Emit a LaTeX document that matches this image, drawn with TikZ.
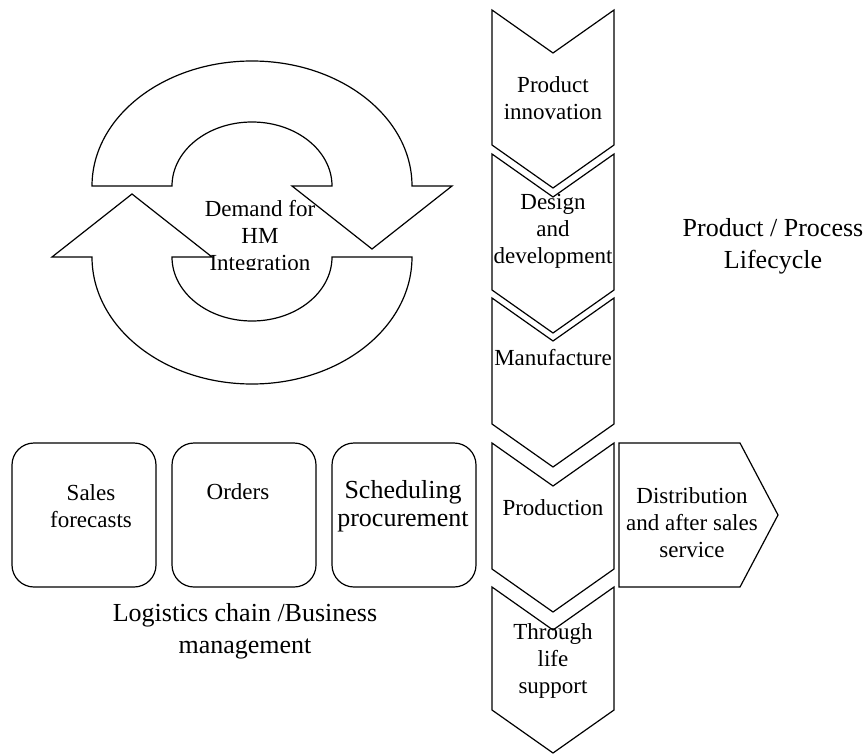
\documentclass[tikz,border=0pt]{standalone}
\usepackage{fontspec}
\setmainfont{Liberation Serif}
\usetikzlibrary{positioning}

\begin{document}
\begin{tikzpicture}[x=1pt,y=1pt,line width=1.2pt,line join=miter,
    every node/.style={font=\fontsize{23}{27}\selectfont},
    stage/.style={draw,fill=white},
    task/.style={rectangle,draw,rounded corners=22pt,minimum width=144pt,minimum height=144pt},
    caption/.style={align=center,inner sep=0pt},
    big caption/.style={caption,font=\fontsize{26}{32}\selectfont},
    cycle arrow/.style={draw,fill=white}]

  \useasboundingbox (0,0) rectangle (866,-754);

  % demand cycle
  \path[cycle arrow] (92,-186) arc[start angle=180,end angle=0,x radius=160,y radius=125]
    -- (452,-186) -- (372,-249) -- (292,-186) -- (332,-186)
    arc[start angle=0,end angle=180,x radius=80,y radius=64] -- cycle;
  \path[cycle arrow] (412,-257) arc[start angle=0,end angle=-180,x radius=160,y radius=127]
    -- (52,-257) -- (132,-194) -- (212,-257) -- (172,-257)
    arc[start angle=180,end angle=360,x radius=80,y radius=64] -- cycle;
  \begin{scope}
    \clip (150,-150) rectangle (370,-269);
    \node[caption] (demand) at (260,-238) {Demand for\\HM\\Integration};
  \end{scope}

  % lifecycle chevrons
  \foreach \top/\bot in {10/188,154/333,298/467,443/612,587/753}
    \draw[stage] (492,-\top) -- (553,-\top-43) -- (614,-\top) -- (614,-\bot+43)
      -- (553,-\bot) -- (492,-\bot+43) -- cycle;
  \draw[stage] (619,-443) -- (740,-443) -- (778,-515) -- (740,-587) -- (619,-587) -- cycle;

  \node[caption] (innov) at (553,-98) {Product\\innovation};
  \node[caption] (design) at (553,-231) {Design\\and\\development};
  \node[caption] (manuf) at (553,-358) {Manufacture};
  \node[caption] (prod) at (553,-508) {Production};
  \node[caption] (support) at (553,-661) {Through\\life\\support};
  \node[caption] (distrib) at (692,-523) {Distribution\\and after sales\\service};
  \node[big caption] (lifecycle) at (773,-246) {Product / Process\\Lifecycle};

  % business boxes
  \node[task] (sales) at (84,-515) {};
  \node[task] (orders) at (244,-515) {};
  \node[task] (sched) at (404,-515) {};
  \node[caption] (salestext) at (91,-506) {Sales\\forecasts};
  \node[caption] (orderstext) at (238,-492) {Orders};
  \node[caption,font=\fontsize{26}{28}\selectfont] (schedtext) at (403,-506) {Scheduling\\procurement};
  \node[big caption] (logistics) at (245,-631) {Logistics chain /Business\\management};
\end{tikzpicture}
\end{document}
